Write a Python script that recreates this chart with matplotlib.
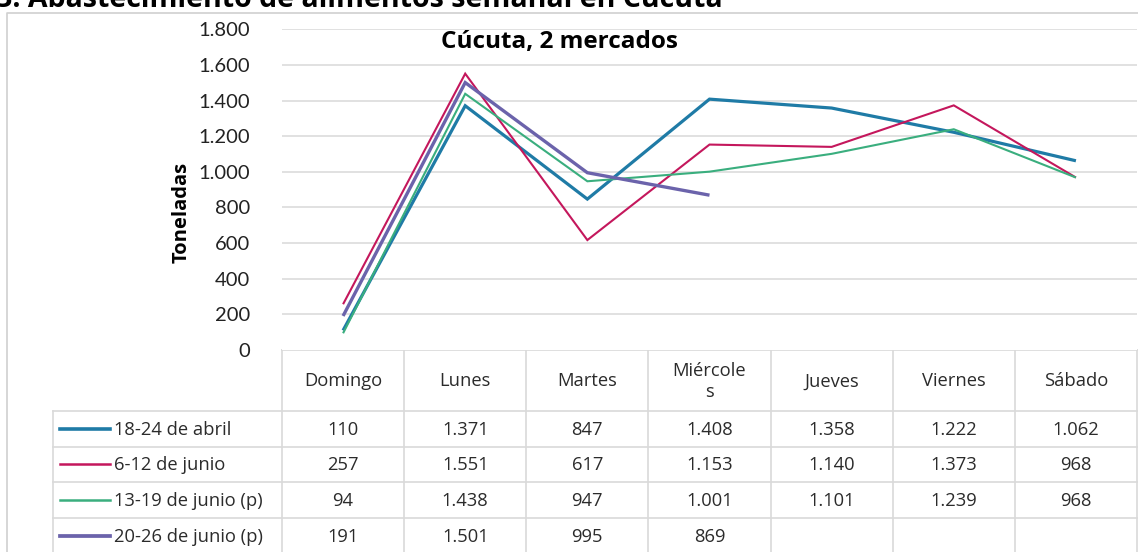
import matplotlib
matplotlib.use("Agg")
import matplotlib.pyplot as plt
from matplotlib.lines import Line2D
import numpy as np

# ---------------- data ----------------
days = ["Domingo", "Lunes", "Martes", "Miércole\ns", "Jueves", "Viernes", "Sábado"]
series_names = ["18-24 de abril", "6-12 de junio", "13-19 de junio (p)", "20-26 de junio (p)"]
abril_18_24 = [110, 1371, 847, 1408, 1358, 1222, 1062]
junio_6_12 = [257, 1551, 617, 1153, 1140, 1373, 968]
junio_13_19 = [94, 1438, 947, 1001, 1101, 1239, 968]
junio_20_26 = [191, 1501, 995, 869]
series_values = [abril_18_24, junio_6_12, junio_13_19, junio_20_26]
yticks = [0, 200, 400, 600, 800, 1000, 1200, 1400, 1600, 1800]

colors = ["#1F7BA6", "#C4175C", "#3AAE7E", "#6B63AB"]
widths = [2.3, 1.5, 1.5, 2.4]

W, H = 1138, 552
fig = plt.figure(figsize=(W / 100, H / 100), dpi=100)

def fx(px):
    return px / W

def fy(py):
    return 1 - py / H

# outer frame (chart area)
bg = fig.add_axes([0, 0, 1, 1])
bg.set_xlim(0, W)
bg.set_ylim(H, 0)
bg.axis("off")
bg.plot([7.5, 7.5, W + 5], [H + 5, 13, 13], color="#D0D0D0", lw=1.2)

# main title (partially cut at top, as in the source image)
fig.text(fx(-4), fy(7), "3. Abastecimiento de alimentos semanal en Cúcuta",
         ha="left", va="baseline", fontsize=20.5, fontweight="bold",
         family="Open Sans", color="black")

# ---------------- plot area ----------------
x0, x1 = 282, 1137
ytop, ybot = 29.3, 350
ax = fig.add_axes([fx(x0), fy(ybot), fx(x1) - fx(x0), (ybot - ytop) / H])
ax.set_xlim(-0.5, len(days) - 0.5)
ax.set_ylim(0, 1800)
for s in ax.spines.values():
    s.set_visible(False)
ax.set_xticks([])
ax.set_yticks(yticks)
ax.set_yticklabels([f"{v:,}".replace(",", ".") for v in yticks],
                   family="Lato", fontsize=14.5, color="#222222")
ax.tick_params(axis="y", length=0, pad=23)
for v in yticks[1:]:
    ax.axhline(v, color="#D9D9D9", lw=1.1, zorder=0)

for vals, c, lw in zip(series_values, colors, widths):
    ax.plot(np.arange(len(vals)), vals, color=c, lw=lw, solid_capstyle="butt",
            solid_joinstyle="miter", zorder=3)

ax.text(0.3246, 0.96, "Cúcuta, 2 mercados", transform=ax.transAxes,
        ha="center", va="center", fontsize=17.5, fontweight="bold",
        family="Open Sans", color="black")

fig.text(fx(182), fy(212), "Toneladas", rotation=90, ha="center", va="center",
         fontsize=14.5, fontweight="bold", family="Open Sans", color="black")

# ---------------- data table ----------------
grid_c = "#D9D9D9"
colw = (x1 - x0) / len(days)
head_top, head_bot = 350, 411
row_h = 35.6
leg_left = 53
n_rows = len(series_names)
row_tops = [head_bot + i * row_h for i in range(n_rows + 1)]

bg.plot([x0, x1], [head_top, head_top], color=grid_c, lw=1.2)
for i in range(len(days) + 1):
    xx = x0 + i * colw
    bg.plot([xx, xx], [head_top, H + 5], color=grid_c, lw=1.2)
for yy in row_tops:
    bg.plot([leg_left, x1], [yy, yy], color=grid_c, lw=1.2)
bg.plot([leg_left, leg_left], [head_bot, H + 5], color=grid_c, lw=1.2)

txt_kw = dict(family="Open Sans", fontsize=13.2, color="#2B2B2B")
for i, d in enumerate(days):
    cx = x0 + (i + 0.5) * colw
    bg.text(cx, (head_top + head_bot) / 2 + 1, d, ha="center", va="center",
            linespacing=1.25, **txt_kw)

for r, (name, vals, c, lw) in enumerate(zip(series_names, series_values, colors, widths)):
    cy = row_tops[r] + row_h / 2 + 1
    bg.add_line(Line2D([60, 110], [cy - 1, cy - 1], color=c, lw=lw + 0.3))
    bg.text(114, cy, name, ha="left", va="center", **txt_kw)
    for i, v in enumerate(vals):
        cx = x0 + (i + 0.5) * colw
        bg.text(cx, cy, f"{v:,}".replace(",", "."), ha="center", va="center", **txt_kw)

fig.savefig("out.png", dpi=100)
